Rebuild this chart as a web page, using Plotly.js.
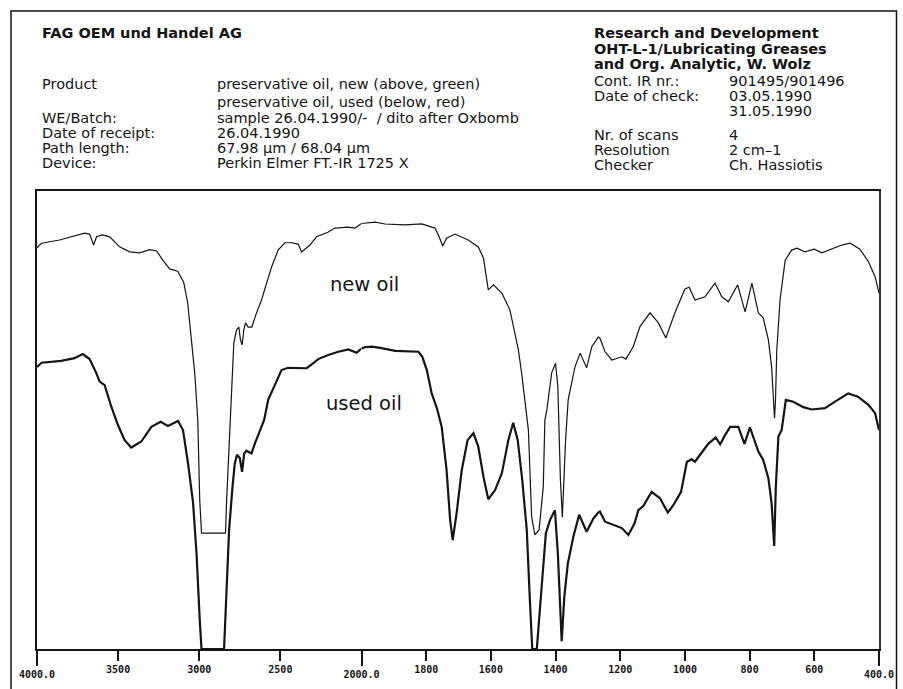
<!DOCTYPE html>
<html><head><meta charset="utf-8">
<script src="https://cdn.plot.ly/plotly-3.0.1.min.js"></script>
<style>html,body{margin:0;padding:0;background:#fff}#chart{width:903px;height:689px}</style>
</head><body><div id="chart"></div>
<script>
// ---- data (wavenumber cm-1, transmittance %) ----
const newOilWn = [
 4000,3972,3861,3769,3707,3676,3651,3633,3596,3552,
 3491,3429,3367,3306,3262,3225,3182,3133,3096,3071,
 3046,3028,3009,2997,2986,2838,2832,2818,2806,2799,
 2787,2770,2756,2746,2736,2725,2715,2699,2676,2647,
 2616,2585,2554,2514,2472,2431,2390,2369,2349,2318,
 2277,2207,2164,2083,2040,2000,1958,1927,1865,1814,
 1773,1760,1749,1737,1711,1670,1639,1623,1616,1608,
 1592,1566,1541,1525,1515,1505,1494,1484,1474,1464,
 1451,1438,1433,1427,1412,1400,1393,1389,1385,1379,
 1374,1369,1361,1340,1324,1304,1288,1268,1263,1247,
 1226,1195,1183,1160,1139,1108,1082,1059,1031,1000,
 987,969,938,907,886,866,837,814,793,773,
 758,742,732,726,723,720,716,706,690,670,
 654,629,600,577,546,515,489,459,433,412,
 400];
const newOilT = [
 87.6,88.6,89.3,90.2,90.8,90.6,88.2,90.0,90.4,90.0,
 87.8,86.7,86.5,87.2,86.9,84.9,83.0,82.5,80.1,75.5,
 67.5,60.3,50.0,32.5,25.3,25.3,31.9,42.8,50.0,54.4,
 66.8,69.7,70.3,67.5,66.4,69.7,71.2,70.3,70.3,73.4,
 76.2,79.9,83.4,87.1,88.7,88.7,88.4,86.7,87.3,88.2,
 90.0,91.0,91.9,92.1,91.9,92.9,93.2,92.8,92.6,92.8,
 91.9,90.0,88.0,89.7,90.6,89.3,87.8,85.4,82.1,78.4,
 79.5,77.7,74.0,69.0,65.3,60.3,54.4,47.8,28.9,24.9,
 26.0,35.4,50.0,52.2,60.3,62.4,57.3,47.8,36.9,28.8,
 36.9,45.6,54.4,61.6,64.6,61.4,66.0,68.1,67.9,64.9,
 63.1,63.8,63.3,66.0,70.4,73.4,71.2,67.9,73.4,78.6,
 79.0,76.2,76.9,79.9,76.9,75.8,79.5,73.6,79.9,73.4,
 72.3,67.5,61.6,54.4,50.4,54.4,65.3,76.2,84.9,87.1,
 87.5,86.7,87.3,86.5,87.3,88.2,88.6,87.3,84.6,81.3,
 77.7];
const usedOilWn = [
 4000,3972,3851,3769,3717,3676,3635,3614,3583,3542,
 3501,3460,3419,3357,3295,3238,3193,3131,3100,3069,
 3038,3017,2997,2986,2847,2832,2816,2795,2781,2767,
 2750,2736,2723,2709,2678,2657,2627,2600,2575,2534,
 2493,2452,2390,2338,2297,2267,2205,2143,2081,2030,
 2000,1989,1968,1938,1896,1855,1824,1812,1798,1783,
 1767,1752,1737,1726,1718,1706,1690,1672,1654,1639,
 1623,1608,1587,1566,1546,1531,1517,1503,1489,1479,
 1472,1458,1443,1430,1417,1402,1393,1386,1381,1373,
 1362,1345,1327,1304,1283,1268,1263,1247,1216,1195,
 1175,1156,1144,1129,1103,1077,1053,1036,1012,994,
 979,969,948,928,905,891,876,860,835,816,
 799,773,758,742,732,727,724,719,711,701,
 688,665,634,608,567,536,495,465,433,412,
 400];
const usedOilT = [
 61.6,62.5,62.9,63.5,64.4,63.3,60.3,58.4,57.6,52.9,
 48.9,45.6,44.0,45.3,48.5,49.6,48.7,49.8,47.8,40.5,
 31.9,21.0,6.3,0,0,13.6,26.0,35.4,40.5,42.4,
 41.7,38.7,42.7,43.3,42.7,44.9,47.8,50.0,54.4,57.6,
 60.9,61.4,61.4,61.3,62.4,63.3,64.2,64.9,65.4,64.7,
 65.6,65.9,66.0,65.7,65.1,64.9,64.9,63.8,60.9,55.8,
 52.6,48.5,39.1,28.2,23.8,29.6,39.1,45.6,47.1,44.2,
 37.6,32.7,34.7,38.4,45.6,49.4,45.6,36.9,26.0,10.0,
 0,0,13.6,25.3,28.2,30.3,20.9,7.8,1.7,11.4,
 18.7,24.5,29.3,25.6,28.5,29.8,30.0,27.8,26.9,26.4,
 24.9,27.4,30.3,31.2,34.3,32.9,29.8,31.4,34.3,40.9,
 41.4,40.9,42.9,44.8,46.2,44.7,46.7,48.5,48.5,44.8,
 48.4,43.1,41.3,37.3,31.8,26.7,22.5,35.4,46.4,47.8,
 54.4,54.0,52.8,52.3,52.6,54.0,55.8,55.1,53.3,51.5,
 47.8];
const seriesLabels = ['new oil', 'used oil'];
const breakWn = 2000;
const tickWnHigh = [3500, 3000, 2500];
const tickWnLow = [1800, 1600, 1400, 1200, 1000, 800, 600];
const endTickWnHigh = [4000, 2000];
const endTickTextHigh = ['4000.0', '2000.0'];
const endTickWnLow = [400];
const endTickTextLow = ['400.0'];

const headerLeftTitle = 'FAG OEM und Handel AG';
const headerLeftLabels = ['Product', '', 'WE/Batch:', 'Date of receipt:', 'Path length:', 'Device:'];
const headerLeftValues = ['preservative oil, new (above, green)', 'preservative oil, used (below, red)',
  'sample 26.04.1990/-\u00a0 / dito after Oxbomb', '26.04.1990', '67.98 µm / 68.04 µm', 'Perkin Elmer FT.-IR 1725 X'];
const headerRightTitle = ['Research and Development', 'OHT-L-1/Lubricating Greases', 'and Org. Analytic, W. Wolz'];
const headerRightLabels = ['Cont. IR nr.:', 'Date of check:', '', 'Nr. of scans', 'Resolution', 'Checker'];
const headerRightValues = ['901495/901496', '03.05.1990', '31.05.1990', '4', '2 cm\u20131', 'Ch. Hassiotis'];

// ---- layout geometry ----
const W = 903, H = 689;
const M = {l: 37, r: 24, t: 191, b: 40};
const PW = W - M.l - M.r, PH = H - M.t - M.b;
const splitDomain = (361.5 - M.l) / PW;
const px = v => (v - M.l) / PW;          // pixel -> paper x
const py = v => (H - M.b - v) / PH;      // pixel -> paper y

function part(wn, t, high) {
  const x = [], y = [];
  wn.forEach((w, i) => {
    if (high ? w >= breakWn : w <= breakWn) { x.push(w); y.push(t[i]); }
  });
  return {x, y};
}
const ink = '#141414';
const traces = [];
[[newOilWn, newOilT, 1.2], [usedOilWn, usedOilT, 2.2]].forEach(([wn, t, lw], k) => {
  const hi = part(wn, t, true), lo = part(wn, t, false);
  traces.push({type: 'scatter', mode: 'lines', x: hi.x, y: hi.y, xaxis: 'x', yaxis: 'y',
    name: seriesLabels[k], line: {color: ink, width: lw}, hoverinfo: 'x+y'});
  traces.push({type: 'scatter', mode: 'lines', x: lo.x, y: lo.y, xaxis: 'x2', yaxis: 'y2',
    name: seriesLabels[k], line: {color: ink, width: lw}, hoverinfo: 'x+y'});
});
traces.push({type: 'scatter', x: [], y: [], xaxis: 'x3', yaxis: 'y', showlegend: false});
traces.push({type: 'scatter', x: [], y: [], xaxis: 'x4', yaxis: 'y2', showlegend: false});

const tickFont = {family: 'DejaVu Sans Mono', size: 10, color: ink, weight: 'bold'};
const baseX = {showgrid: false, zeroline: false, ticks: 'outside', tickcolor: ink, tickwidth: 2,
  tickfont: tickFont, fixedrange: true};

const hdrFont = {family: 'DejaVu Sans', size: 14.5, color: ink};
const ann = [];
function txt(text, x, y, bold, font) {
  ann.push({xref: 'paper', yref: 'paper', x: px(x), y: py(y), xanchor: 'left', yanchor: 'middle',
    text: bold ? '<b>' + text + '</b>' : text, showarrow: false, font: font || hdrFont});
}
txt(headerLeftTitle, 40, 33, true);
const leftRows = [84, 102, 118, 133, 148, 163];
headerLeftLabels.forEach((s, i) => { if (s) txt(s, 40, leftRows[i]); });
headerLeftValues.forEach((s, i) => txt(s, 215, leftRows[i]));
const rightTitleRows = [33, 49, 64];
headerRightTitle.forEach((s, i) => txt(s, 592, rightTitleRows[i], true));
const rightRows = [81, 96, 111, 135, 150, 165];
headerRightLabels.forEach((s, i) => { if (s) txt(s, 592, rightRows[i]); });
headerRightValues.forEach((s, i) => txt(s, 727, rightRows[i]));
const lblFont = {family: 'DejaVu Sans', size: 19.5, color: ink};
ann.push({xref: 'paper', yref: 'paper', x: px(364.5), y: py(284), xanchor: 'center', yanchor: 'middle',
  text: seriesLabels[0], showarrow: false, font: lblFont});
ann.push({xref: 'paper', yref: 'paper', x: px(363.5), y: py(403), xanchor: 'center', yanchor: 'middle',
  text: seriesLabels[1], showarrow: false, font: lblFont});

const frame = `M ${px(11)} ${py(700)} L ${px(11)} ${py(11)} L ${px(896.5)} ${py(11)} L ${px(896.5)} ${py(700)}`;

const layout = {
  width: W, height: H, margin: M, showlegend: false,
  paper_bgcolor: '#fff', plot_bgcolor: '#fff',
  xaxis: Object.assign({}, baseX, {domain: [0, splitDomain], range: [4000, 2000], anchor: 'y',
    tickvals: tickWnHigh, ticktext: tickWnHigh.map(String), ticklen: 10,
    showline: true, linecolor: ink, linewidth: 1.6, mirror: true}),
  xaxis2: Object.assign({}, baseX, {domain: [splitDomain, 1], range: [2000, 400], anchor: 'y2',
    tickvals: tickWnLow, ticktext: tickWnLow.map(String), ticklen: 10,
    showline: true, linecolor: ink, linewidth: 1.6, mirror: true}),
  xaxis3: Object.assign({}, baseX, {domain: [0, splitDomain], range: [4000, 2000], anchor: 'y',
    overlaying: 'x', tickvals: endTickWnHigh, ticktext: endTickTextHigh, ticklen: 16, showline: false}),
  xaxis4: Object.assign({}, baseX, {domain: [splitDomain, 1], range: [2000, 400], anchor: 'y2',
    overlaying: 'x2', tickvals: endTickWnLow, ticktext: endTickTextLow, ticklen: 16, showline: false}),
  yaxis: {domain: [0, 1], range: [0, 100], anchor: 'x', showgrid: false, zeroline: false,
    showticklabels: false, ticks: '', showline: true, linecolor: ink, linewidth: 2, fixedrange: true},
  yaxis2: {domain: [0, 1], range: [0, 100], anchor: 'x2', side: 'right', showgrid: false, zeroline: false,
    showticklabels: false, ticks: '', showline: true, linecolor: '#333', linewidth: 2, fixedrange: true},
  annotations: ann,
  shapes: [{type: 'path', xref: 'paper', yref: 'paper', path: frame, line: {color: ink, width: 1.5}}]
};
Plotly.newPlot('chart', traces, layout, {displayModeBar: false, staticPlot: true});
</script>
</body></html>
